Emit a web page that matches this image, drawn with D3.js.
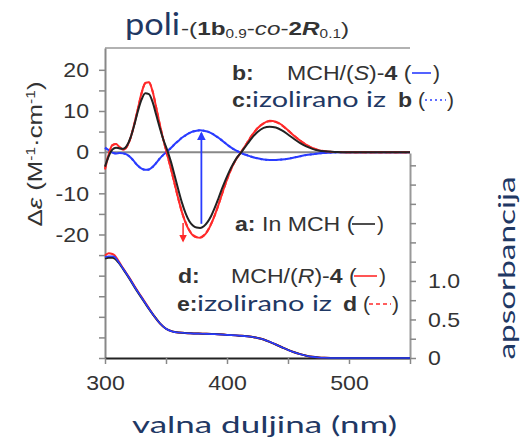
<!DOCTYPE html>
<html>
<head>
<meta charset="utf-8">
<script src="https://cdn.jsdelivr.net/npm/d3@7"></script>
<style>
  body { margin: 0; background: #fff; }
  svg { display: block; }
</style>
</head>
<body>
<svg id="chart" width="523" height="443"></svg>
<script>
// CD spectra (delta epsilon, left axis)
const cdWavelengths = [300, 303, 306, 309, 312, 315, 318, 321, 324, 327, 330, 333, 336, 339, 342, 345, 348, 351,
  354, 357, 360, 363, 366, 369, 372, 375, 378, 381, 384, 387, 390, 393, 396, 399, 402, 405, 408, 411, 414, 417,
  420, 425, 430, 435, 440, 445, 450, 455, 460, 465, 470, 475, 480, 490, 500, 525, 550];

// a: in MCH (black)
const cdInMch = [-3.5, -1.0, 0.6, 1.1, 0.9, 0.8, 1.6, 3.6, 6.6, 10.0, 12.8, 14.3, 14.1, 12.2, 9.0, 5.8, 2.9, 0.5,
  -2.3, -5.6, -9.0, -12.2, -14.8, -16.7, -17.8, -18.3, -18.4, -18.0, -17.0, -15.5, -13.5, -11.2, -8.8, -6.6, -4.6, -2.9, -1.4, -0.3, 0.9, 2.1,
  3.3, 4.9, 5.9, 6.2, 6.0, 5.3, 4.3, 3.2, 2.2, 1.4, 0.8, 0.4, 0.2, 0.05, 0, 0, 0];

// b: MCH/(S)-4 (blue)
const cdMchS = [1.1, 0.5, -0.1, -0.3, -0.2, -0.3, -0.6, -1.3, -2.3, -3.3, -4.0, -4.3, -4.2, -3.6, -2.6, -1.5, -0.6, 0.2,
  1.0, 1.9, 2.7, 3.5, 4.1, 4.6, 5.0, 5.2, 5.3, 5.2, 5.0, 4.6, 4.1, 3.5, 2.8, 2.1, 1.4, 0.8, 0.3, -0.1, -0.5, -0.8,
  -1.1, -1.5, -1.8, -1.9, -1.9, -1.8, -1.6, -1.3, -1.0, -0.7, -0.5, -0.3, -0.2, -0.05, 0, 0, 0];

// c: isolated from b (blue dotted)
const cdIsoS = [1.0, 0.5, -0.1, -0.3, -0.2, -0.3, -0.6, -1.3, -2.3, -3.3, -4.0, -4.3, -4.2, -3.6, -2.6, -1.5, -0.6, 0.2,
  1.0, 1.9, 2.7, 3.5, 4.1, 4.6, 5.0, 5.2, 5.3, 5.2, 5.0, 4.6, 4.1, 3.5, 2.8, 2.1, 1.4, 0.8, 0.3, -0.1, -0.5, -0.8,
  -1.1, -1.5, -1.8, -1.9, -1.9, -1.8, -1.6, -1.3, -1.0, -0.7, -0.5, -0.3, -0.2, -0.05, 0, 0, 0];

// d: MCH/(R)-4 (red)
const cdMchR = [-4.2, -0.6, 1.7, 2.0, 1.2, 0.6, 1.4, 3.5, 6.8, 10.6, 14.4, 16.8, 17.0, 14.8, 10.8, 6.6, 2.8, -0.6,
  -4.0, -7.6, -11.2, -14.5, -17.1, -19.0, -20.2, -20.7, -20.8, -20.3, -19.2, -17.5, -15.3, -12.8, -10.1, -7.5, -5.1, -3.1, -1.5, -0.2, 1.1, 2.5,
  3.9, 5.8, 7.0, 7.6, 7.4, 6.6, 5.3, 4.0, 2.8, 1.8, 1.0, 0.5, 0.25, 0.05, 0, 0, 0];

// e: isolated from d (red dashed)
const cdIsoR = [-4.0, -0.6, 1.6, 2.0, 1.2, 0.6, 1.4, 3.5, 6.8, 10.5, 14.3, 16.7, 16.9, 14.8, 10.8, 6.6, 2.8, -0.6,
  -4.0, -7.6, -11.2, -14.5, -17.0, -18.9, -20.1, -20.6, -20.7, -20.2, -19.1, -17.4, -15.3, -12.8, -10.1, -7.5, -5.1, -3.1, -1.5, -0.2, 1.1, 2.5,
  3.9, 5.8, 7.0, 7.5, 7.3, 6.5, 5.3, 4.0, 2.8, 1.8, 1.0, 0.5, 0.25, 0.05, 0, 0, 0];

// absorption spectra (right axis)
const absWavelengths = [300, 303, 306, 308, 311, 315, 320, 325, 330, 335, 340, 345, 350, 355, 360, 370, 380, 390,
  400, 410, 420, 425, 430, 435, 440, 445, 450, 455, 460, 465, 470, 475, 480, 490, 500, 525, 550];
const absInMch = [1.29, 1.30, 1.30, 1.29, 1.24, 1.15, 1.03, 0.90, 0.78, 0.66, 0.55, 0.45, 0.38, 0.345, 0.33, 0.32, 0.315, 0.31,
  0.30, 0.29, 0.275, 0.26, 0.24, 0.21, 0.175, 0.14, 0.105, 0.075, 0.05, 0.03, 0.015, 0.007, 0.003, 0, 0, 0, 0];
const absMchS = [1.31, 1.32, 1.32, 1.31, 1.25, 1.155, 1.035, 0.905, 0.785, 0.665, 0.55, 0.45, 0.38, 0.345, 0.33, 0.32, 0.315, 0.31,
  0.30, 0.29, 0.275, 0.26, 0.24, 0.21, 0.175, 0.14, 0.105, 0.075, 0.05, 0.03, 0.015, 0.007, 0.003, 0, 0, 0, 0];
const absMchR = [1.33, 1.36, 1.35, 1.33, 1.26, 1.16, 1.04, 0.91, 0.79, 0.67, 0.55, 0.45, 0.38, 0.345, 0.33, 0.32, 0.315, 0.31,
  0.30, 0.29, 0.275, 0.26, 0.24, 0.21, 0.175, 0.14, 0.105, 0.075, 0.05, 0.03, 0.015, 0.007, 0.003, 0, 0, 0, 0];

// tick labels
const xTickLabels = [300, 400, 500];
const cdTickLabels = [20, 10, 0, -10, -20];
const absTickLabels = { 0: '0', 0.5: '0.5', 1: '1.0' };

// arrows: [wavelength, from, to] in delta epsilon units
const arrowBlue = [379, -17.4, 4.6];
const arrowRed = [364, -17.2, -21.6];

const FIG_FONT = "'Liberation Sans', Arial, Helvetica, sans-serif";
const SLIDE_FONT = "Lato, 'Open Sans', sans-serif";
const SLIDE_COLOR = '#1f3864';
const BLUE = '#2a3cff';
const RED = '#ff2a2a';
const BLACK = '#222';
const SX = 1.1;

const svg = d3.select('#chart');
svg.append('rect').attr('width', 523).attr('height', 443).attr('fill', '#fff');

const x = d3.scaleLinear().domain([300, 550]).range([105, 410]);
const yCd = d3.scaleLinear().domain([-50, 25.3]).range([358, 48]);
const yAbs = d3.scaleLinear().domain([0, 2.66]).range([358, 153]);

// widen the figure text a bit, like the picture
const stretch = (sel, k) => sel.each(function () {
  const w = this.getComputedTextLength();
  if (w > 0) d3.select(this).attr('textLength', w * k).attr('lengthAdjust', 'spacingAndGlyphs');
});

// frame lines
svg.append('line').attr('x1', x(300)).attr('x2', x(550)).attr('y1', 48).attr('y2', 48)
  .attr('stroke', '#999').attr('stroke-width', 1.5);
svg.append('line').attr('x1', x(300)).attr('x2', x(550)).attr('y1', yCd(0)).attr('y2', yCd(0))
  .attr('stroke', '#888').attr('stroke-width', 2);

const styleAxis = (g, domainColor) => {
  g.select('.domain').attr('stroke', domainColor).attr('stroke-width', 2);
  g.selectAll('.tick line').attr('stroke', '#888').attr('stroke-width', 1.5);
  g.selectAll('.tick text').attr('fill', '#333').attr('font-family', FIG_FONT).attr('font-size', 21);
  stretch(g.selectAll('.tick text'), SX);
};

const leftAxis = svg.append('g')
  .attr('transform', `translate(${x(300)},0)`)
  .call(d3.axisLeft(yCd).tickValues(d3.range(-50, 21, 5)).tickSize(6).tickSizeOuter(0).tickPadding(10)
    .tickFormat(d => (cdTickLabels.includes(d) ? String(d) : '')));
styleAxis(leftAxis, '#888');

const bottomAxis = svg.append('g')
  .attr('transform', `translate(0,${yCd(-50)})`)
  .call(d3.axisBottom(x).tickValues(d3.range(300, 551, 50)).tickSize(6).tickSizeOuter(0).tickPadding(11)
    .tickFormat(d => (xTickLabels.includes(d) ? String(d) : '')));
styleAxis(bottomAxis, BLACK);

const rightAxis = svg.append('g')
  .attr('transform', `translate(${x(550)},0)`)
  .call(d3.axisRight(yAbs).tickValues(d3.range(0, 2.6, 0.25)).tickSize(6).tickSizeOuter(0).tickPadding(12)
    .tickFormat(d => absTickLabels[d] || ''));
styleAxis(rightAxis, '#999');

// curves
const cdLine = d3.line().x((d, i) => x(cdWavelengths[i])).y(d => yCd(d)).curve(d3.curveMonotoneX);
const absLine = d3.line().x((d, i) => x(absWavelengths[i])).y(d => yAbs(d)).curve(d3.curveMonotoneX);

const curves = [
  { d: absLine(absMchR), color: RED, w: 2 },
  { d: absLine(absInMch), color: BLACK, w: 2 },
  { d: absLine(absMchS), color: BLUE, w: 1.6 },
  { d: cdLine(cdMchS), color: BLUE, w: 2 },
  { d: cdLine(cdIsoS), color: BLUE, w: 2, dash: '2,3' },
  { d: cdLine(cdMchR), color: RED, w: 2 },
  { d: cdLine(cdIsoR), color: RED, w: 2, dash: '5,3' },
  { d: cdLine(cdInMch), color: BLACK, w: 2 },
];
svg.append('g').selectAll('path').data(curves).enter().append('path')
  .attr('d', c => c.d)
  .attr('fill', 'none')
  .attr('stroke', c => c.color)
  .attr('stroke-width', c => c.w)
  .attr('stroke-dasharray', c => c.dash || null)
  .attr('stroke-linejoin', 'round');

// arrows
const defs = svg.append('defs');
[['headBlue', BLUE], ['headRed', RED]].forEach(([id, col]) => {
  defs.append('marker').attr('id', id).attr('viewBox', '0 0 10 10').attr('refX', 8).attr('refY', 5)
    .attr('markerWidth', 5).attr('markerHeight', 5).attr('orient', 'auto')
    .append('path').attr('d', 'M0,0L10,5L0,10z').attr('fill', col);
});
svg.append('line').attr('x1', x(arrowBlue[0])).attr('x2', x(arrowBlue[0]))
  .attr('y1', yCd(arrowBlue[1])).attr('y2', yCd(arrowBlue[2]))
  .attr('stroke', BLUE).attr('stroke-width', 1.8).attr('marker-end', 'url(#headBlue)');
svg.append('line').attr('x1', x(arrowRed[0])).attr('x2', x(arrowRed[0]))
  .attr('y1', yCd(arrowRed[1])).attr('y2', yCd(arrowRed[2]))
  .attr('stroke', RED).attr('stroke-width', 1.5).attr('marker-end', 'url(#headRed)');

// text helpers
const figText = (px, py, parts, size = 21) => {
  const t = svg.append('text').attr('x', px).attr('y', py).attr('font-family', FIG_FONT)
    .attr('font-size', size).attr('fill', '#333');
  parts.forEach(p => {
    const s = t.append('tspan').text(p.t);
    if (p.b) s.attr('font-weight', 'bold');
    if (p.i) s.attr('font-style', 'italic');
    if (p.fs) s.attr('font-size', p.fs);
    if (p.dy) s.attr('dy', p.dy);
  });
  return t;
};
const slideText = (px, py, str, size, width) => svg.append('text').attr('x', px).attr('y', py)
  .attr('font-family', SLIDE_FONT).attr('font-size', size).attr('fill', SLIDE_COLOR)
  .attr('textLength', width).attr('lengthAdjust', 'spacingAndGlyphs').text(str);
const sample = (x1, x2, py, color, dash) => svg.append('line').attr('x1', x1).attr('x2', x2)
  .attr('y1', py).attr('y2', py).attr('stroke', color).attr('stroke-width', 1.6)
  .attr('stroke-dasharray', dash || null);

// title
slideText(125, 35, 'poli', 30, 55);
figText(181, 35, [
  { t: '-(' }, { t: '1b', b: true }, { t: '0.9', fs: 12, dy: 3 }, { t: '-', dy: -3 }, { t: 'co', i: true },
  { t: '-' }, { t: '2', b: true }, { t: 'R', b: true, i: true }, { t: '0.1', fs: 12, dy: 3 }, { t: ')', dy: -3 },
], 19).attr('textLength', 168).attr('lengthAdjust', 'spacingAndGlyphs');

// legend rows
stretch(figText(232, 80, [{ t: 'b:', b: true }]), SX);
stretch(figText(287, 80, [{ t: 'MCH/(' }, { t: 'S', i: true }, { t: ')-' }, { t: '4', b: true }, { t: ' (' }]), SX);
sample(412, 431, 73, BLUE);
figText(433, 80, [{ t: ')' }]);

stretch(figText(232, 107, [{ t: 'c:', b: true }]), SX);
slideText(252, 107, 'izolirano iz', 21, 134);
stretch(figText(398, 107, [{ t: 'b', b: true }]), SX);
figText(418, 107, [{ t: '(' }]);
sample(425, 446, 100, BLUE, '2,3');
figText(447, 107, [{ t: ')' }]);

stretch(figText(235, 231, [{ t: 'a:', b: true }, { t: ' In MCH (' }]), SX);
sample(352, 375, 224, BLACK);
figText(377, 231, [{ t: ')' }]);

stretch(figText(178, 283, [{ t: 'd:', b: true }]), SX);
stretch(figText(231, 283, [{ t: 'MCH/(' }, { t: 'R', i: true }, { t: ')-' }, { t: '4', b: true }, { t: ' (' }]), SX);
sample(354, 377, 276, RED);
figText(379, 283, [{ t: ')' }]);

stretch(figText(177, 311, [{ t: 'e:', b: true }]), SX);
slideText(197, 311, 'izolirano iz', 21, 135);
stretch(figText(343, 311, [{ t: 'd', b: true }]), SX);
figText(363, 311, [{ t: '(' }]);
sample(369, 391, 304, RED, '4,3');
figText(392, 311, [{ t: ')' }]);

// axis titles
const yTitle = svg.append('text').attr('transform', 'translate(42,154) rotate(-90)')
  .attr('text-anchor', 'middle').attr('font-family', FIG_FONT).attr('font-size', 20).attr('fill', '#333')
  .attr('textLength', 145).attr('lengthAdjust', 'spacingAndGlyphs');
yTitle.append('tspan').text('Δ');
yTitle.append('tspan').attr('font-style', 'italic').text('ε');
yTitle.append('tspan').text(' (M');
yTitle.append('tspan').attr('font-size', 12).attr('dy', -7).text('-1');
yTitle.append('tspan').attr('dy', 7).text('·cm');
yTitle.append('tspan').attr('font-size', 12).attr('dy', -7).text('-1');
yTitle.append('tspan').attr('dy', 7).text(')');

svg.append('text').attr('transform', 'translate(515,268) rotate(-90)').attr('text-anchor', 'middle')
  .attr('font-family', SLIDE_FONT).attr('font-size', 23).attr('fill', SLIDE_COLOR)
  .attr('textLength', 183).attr('lengthAdjust', 'spacingAndGlyphs').text('apsorbancija');

svg.append('text').attr('x', 264.5).attr('y', 433).attr('text-anchor', 'middle')
  .attr('font-family', SLIDE_FONT).attr('font-size', 23).attr('fill', SLIDE_COLOR)
  .attr('textLength', 265).attr('lengthAdjust', 'spacingAndGlyphs').text('valna duljina (nm)');
</script>
</body>
</html>
